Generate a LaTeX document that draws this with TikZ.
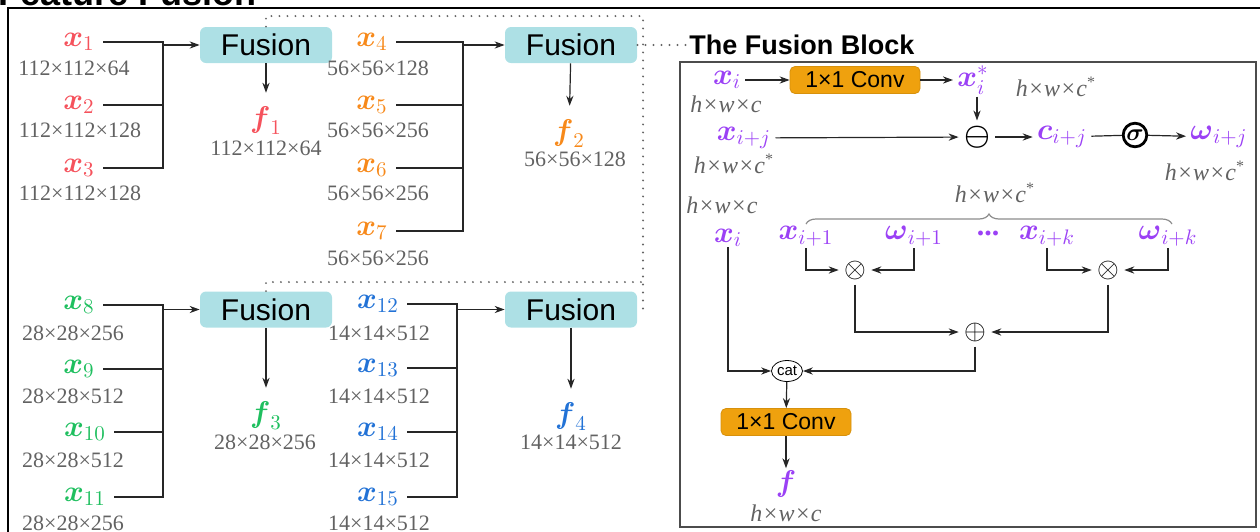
\documentclass[tikz,border=0pt]{standalone}
\usepackage{fix-cm}
\usepackage{amsmath}
\usepackage{fontspec}
\setmainfont{Liberation Serif}
\setsansfont{Liberation Sans}
\usetikzlibrary{arrows.meta,shapes.geometric,decorations.pathreplacing}

\definecolor{lvlA}{HTML}{F5525C}
\definecolor{lvlB}{HTML}{F7891A}
\definecolor{lvlC}{HTML}{1FBF5F}
\definecolor{lvlD}{HTML}{2272D6}
\definecolor{blkvar}{HTML}{9B41F5}
\definecolor{dimgray}{HTML}{626262}
\definecolor{fusecyan}{HTML}{ADE0E5}
\definecolor{convorange}{HTML}{EFA10E}

\newcommand{\bx}[1]{$\boldsymbol{x}_{#1}$}
\newcommand{\hwc}{\textit{h×w×c}}
\newcommand{\hwcs}{\textit{h×w×c}\textsuperscript{*}}

\tikzset{
  var/.style={font=\fontsize{15}{17}\selectfont, inner xsep=2pt, inner ysep=1pt},
  inp/.style={var, inner xsep=4pt},
  dim/.style={text=dimgray, font=\fontsize{11}{13}\selectfont, inner sep=0pt},
  dimb/.style={dim, font=\fontsize{12}{14}\selectfont},
  fusion/.style={fill=fusecyan, rounded corners=3pt, minimum width=66pt, minimum height=18pt,
    inner sep=0pt, font=\sffamily\fontsize{15}{17}\selectfont},
  conv/.style={fill=convorange, draw=convorange!90!black, rounded corners=2.5pt, minimum width=65pt,
    minimum height=13.5pt, inner sep=0pt, font=\sffamily\fontsize{11.5}{13}\selectfont},
  wire/.style={draw=black!85, line width=0.6pt},
  dotline/.style={draw=black!60, line width=1.1pt, line cap=round, dash pattern=on 0pt off 4pt},
  opm/.style={inner sep=2.5pt, font=\fontsize{14}{14}\selectfont},
  catnode/.style={ellipse, draw, minimum width=15.5pt, minimum height=10.5pt, inner sep=0pt,
    font=\sffamily\fontsize{7.5}{8}\selectfont},
}

\begin{document}
\begin{tikzpicture}[x=0.5pt, y=-0.5pt, >={Stealth[length=5pt,width=3.6pt]}]
  \useasboundingbox (0,0) rectangle (1260,531);

  % heading and outer frame
  \node[anchor=base west, inner sep=0pt, font=\sffamily\bfseries\fontsize{18}{20}\selectfont] (head) at (-2,5) {Feature Fusion};
  \draw[line width=1pt] (8,545) -- (8,8) -- (1275,8);

  % LEVEL 1: x1..x3
  \node[inp, text=lvlA] (x1) at (79,42) {\bx{1}};
  \node[dim] (d1) at (74,68) {112×112×64};
  \node[inp, text=lvlA] (x2) at (79,105) {\bx{2}};
  \node[dim] (d2) at (80,130) {112×112×128};
  \node[inp, text=lvlA] (x3) at (79,168) {\bx{3}};
  \node[dim] (d3) at (80,193) {112×112×128};
  \node[fusion] (F1) at (266,45) {Fusion};
  \node[var, text=lvlA] (f1) at (266,121) {$\boldsymbol{f}_1$};
  \node[dim] (df1) at (266,148) {112×112×64};
  \coordinate (b1) at (163,45);
  \draw[wire] (x1) -- (x1 -| b1) -- (x3 -| b1) -- (x3);
  \draw[wire] (x2) -- (x2 -| b1);
  \draw[wire, ->] (b1) -- (F1);
  \draw[wire, ->, shorten >=6pt] (F1) -- (f1);

  % LEVEL 2: x4..x7
  \node[inp, text=lvlB] (x4) at (372,42) {\bx{4}};
  \node[dim] (d4) at (378,68) {56×56×128};
  \node[inp, text=lvlB] (x5) at (372,105) {\bx{5}};
  \node[dim] (d5) at (378,130) {56×56×256};
  \node[inp, text=lvlB] (x6) at (372,168) {\bx{6}};
  \node[dim] (d6) at (378,193) {56×56×256};
  \node[inp, text=lvlB] (x7) at (372,231) {\bx{7}};
  \node[dim] (d7) at (378,258) {56×56×256};
  \node[fusion] (F2) at (571,45) {Fusion};
  \node[var, text=lvlB] (f2) at (569,134) {$\boldsymbol{f}_2$};
  \node[dim] (df2) at (575,159) {56×56×128};
  \coordinate (b2) at (463,45);
  \draw[wire] (x4) -- (x4 -| b2) -- (x7 -| b2) -- (x7);
  \draw[wire] (x5) -- (x5 -| b2);
  \draw[wire] (x6) -- (x6 -| b2);
  \draw[wire, ->] (b2) -- (F2);
  \draw[wire, ->, shorten >=6pt] (F2) -- (f2);

  % LEVEL 3: x8..x11
  \node[inp, text=lvlC] (x8) at (79,305) {\bx{8}};
  \node[dim] (d8) at (73,333) {28×28×256};
  \node[inp, text=lvlC] (x9) at (79,369) {\bx{9}};
  \node[dim] (d9) at (73,396) {28×28×512};
  \node[inp, text=lvlC] (x10) at (85,432) {\bx{10}};
  \node[dim] (d10) at (73,460) {28×28×512};
  \node[inp, text=lvlC] (x11) at (85,497) {\bx{11}};
  \node[dim] (d11) at (73,523) {28×28×256};
  \node[fusion] (F3) at (266,309.5) {Fusion};
  \node[var, text=lvlC] (f3) at (266,416) {$\boldsymbol{f}_3$};
  \node[dim] (df3) at (265,442) {28×28×256};
  \coordinate (b3) at (163,309.5);
  \draw[wire] (x8) -- (x8 -| b3) -- (x11 -| b3) -- (x11);
  \draw[wire] (x9) -- (x9 -| b3);
  \draw[wire] (x10) -- (x10 -| b3);
  \draw[wire, ->] (b3) -- (F3);
  \draw[wire, ->, shorten >=6pt] (F3) -- (f3);

  % LEVEL 4: x12..x15
  \node[inp, text=lvlD] (x12) at (378,304) {\bx{12}};
  \node[dim] (d12) at (379,333) {14×14×512};
  \node[inp, text=lvlD] (x13) at (378,368) {\bx{13}};
  \node[dim] (d13) at (379,396) {14×14×512};
  \node[inp, text=lvlD] (x14) at (378,432) {\bx{14}};
  \node[dim] (d14) at (379,460) {14×14×512};
  \node[inp, text=lvlD] (x15) at (378,497) {\bx{15}};
  \node[dim] (d15) at (379,523) {14×14×512};
  \node[fusion] (F4) at (571,309.5) {Fusion};
  \node[var, text=lvlD] (f4) at (571,417) {$\boldsymbol{f}_4$};
  \node[dim] (df4) at (571,442) {14×14×512};
  \coordinate (b4) at (457,309.5);
  \draw[wire] (x12) -- (x12 -| b4) -- (x15 -| b4) -- (x15);
  \draw[wire] (x13) -- (x13 -| b4);
  \draw[wire] (x14) -- (x14 -| b4);
  \draw[wire, ->] (b4) -- (F4);
  \draw[wire, ->, shorten >=6pt] (F4) -- (f4);

  % dotted links from the four blocks to the detail panel
  \node[anchor=west, inner sep=1pt, font=\sffamily\bfseries\fontsize{13.5}{15}\selectfont] (blkttl) at (687,45) {The Fusion Block};
  \coordinate (dr) at (643,16);
  \coordinate (dm) at (643,282);
  \draw[dotline] (F1.north) |- (dr) -- (dr |- F4.east) -- (F4.east);
  \draw[dotline] (F3.north) |- (dm);
  \draw[dotline] (F2.east) -- (blkttl.west);

  % THE FUSION BLOCK
  \draw[draw=black!70, line width=0.7pt] (680,62) rectangle (1256,527);

  % weight branch
  \node[var, text=blkvar] (xi) at (727,80) {$\boldsymbol{x}_i$};
  \node[dimb] (dxi) at (726,104) {\hwc};
  \node[conv] (cv1) at (855,80) {1×1 Conv};
  \node[var, text=blkvar] (xs) at (973,80) {$\boldsymbol{x}_i^{*}$};
  \node[dimb] (dxs) at (1056,87) {\hwcs};
  \node[var, text=blkvar] (xj) at (744,138) {$\boldsymbol{x}_{i+j}$};
  \node[dimb] (dxj) at (734,164) {\hwcs};
  \node[opm, font=\fontsize{14.5}{14.5}\selectfont] (sub) at (977,137) {$\boldsymbol{\ominus}$};
  \node[var, text=blkvar] (cij) at (1062,137) {$\boldsymbol{c}_{i+j}$};
  \node[circle, draw, line width=1.4pt, inner sep=0.6pt, minimum size=11pt, font=\fontsize{12}{12}\selectfont] (sg) at (1135,135) {$\boldsymbol{\sigma}$};
  \node[var, text=blkvar] (wij) at (1219,137) {$\boldsymbol{\omega}_{i+j}$};
  \node[dimb] (dwij) at (1205,171) {\hwcs};
  \draw[wire, ->] (xi) -- (cv1);
  \draw[wire, ->] (cv1) -- (xs);
  \draw[wire, ->] (sub |- xs.south) -- (sub);
  \draw[wire, ->] (xj) -- (sub);
  \draw[wire, ->] (sub) -- (cij);
  \draw[wire] (cij) -- (sg);
  \draw[wire, ->] (sg) -- (wij);

  % weighted sum and concatenation
  \node[dimb] (dbr) at (995,193) {\hwcs};
  \draw[draw=black!45, line width=0.6pt, decorate, decoration={brace, amplitude=5pt}] (806,224) -- (1172,224);
  \node[dimb] (dxl) at (722,205) {\hwc};
  \node[var, text=blkvar, inner ysep=0pt] (xl) at (728,238) {$\boldsymbol{x}_i$};
  \node[var, text=blkvar] (x1b) at (806,236) {$\boldsymbol{x}_{i+1}$};
  \node[var, text=blkvar] (w1b) at (914,236) {$\boldsymbol{\omega}_{i+1}$};
  \node[var, text=blkvar] (dots) at (988,233) {\textbf{...}};
  \node[var, text=blkvar] (xk) at (1047,236) {$\boldsymbol{x}_{i+k}$};
  \node[var, text=blkvar] (wk) at (1168,236) {$\boldsymbol{\omega}_{i+k}$};
  \node[opm] (mulL) at (855,270) {$\otimes$};
  \node[opm] (mulR) at (1108,270) {$\otimes$};
  \node[opm] (add) at (975,332) {$\oplus$};
  \node[catnode] (cat) at (787,371) {cat};
  \node[conv] (cv2) at (786,422) {1×1 Conv};
  \node[var, text=blkvar] (f) at (786,484) {$\boldsymbol{f}$};
  \node[dimb] (df) at (786,513) {\hwc};
  \draw[wire, ->] (x1b) |- (mulL);
  \draw[wire, ->] (w1b) |- (mulL);
  \draw[wire, ->] (xk) |- (mulR);
  \draw[wire, ->] (wk) |- (mulR);
  \draw[wire, ->] (mulL) |- (add);
  \draw[wire, ->] (mulR) |- (add);
  \draw[wire, ->] (add) |- (cat);
  \draw[wire, ->] (xl) |- (cat);
  \draw[wire, ->] (cat) -- (cv2);
  \draw[wire, ->] (cv2) -- (f);
\end{tikzpicture}
\end{document}
